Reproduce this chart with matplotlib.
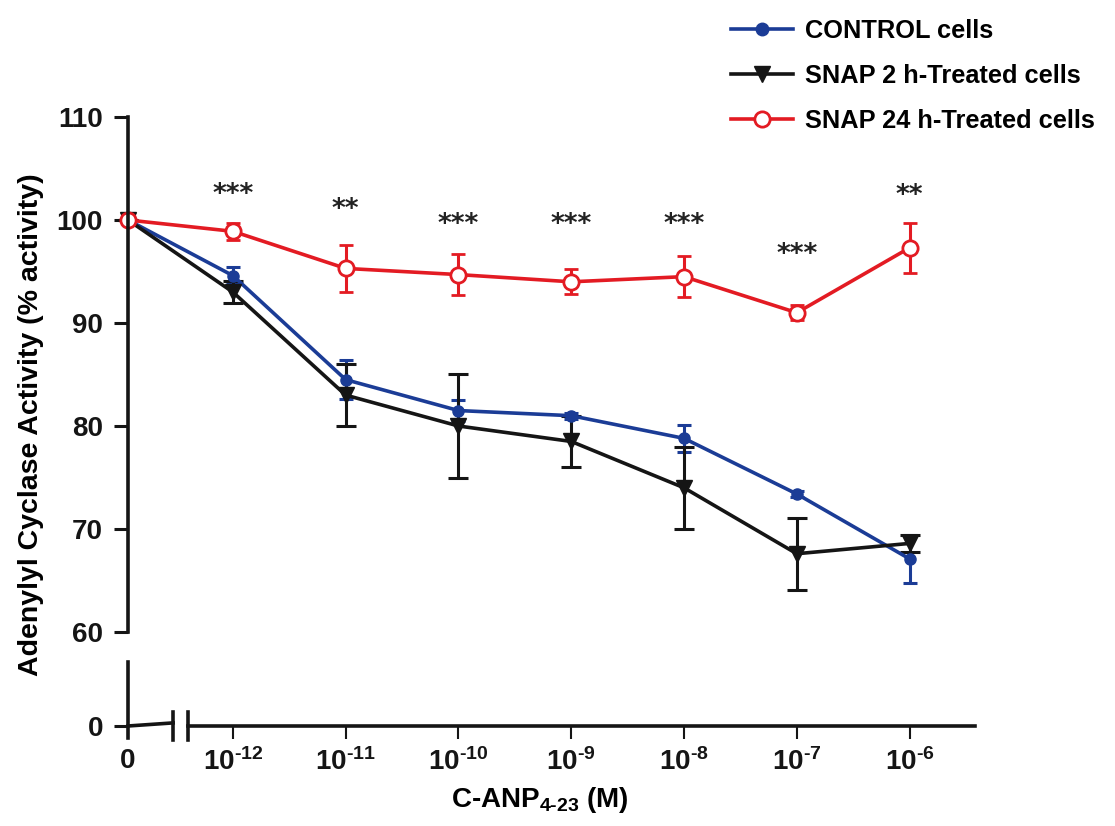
import matplotlib.pyplot as plt
from matplotlib.lines import Line2D
import numpy as np

plt.rcParams['font.family'] = ['Liberation Sans', 'DejaVu Sans']
plt.rcParams['font.weight'] = 'bold'
plt.rcParams['mathtext.fontset'] = 'custom'
plt.rcParams['mathtext.rm'] = 'Liberation Sans:bold'
plt.rcParams['mathtext.it'] = 'Liberation Sans:bold'
plt.rcParams['mathtext.bf'] = 'Liberation Sans:bold'

# data
doses = [0, 1e-12, 1e-11, 1e-10, 1e-9, 1e-8, 1e-7, 1e-6]
dose_labels = ['0', r'$10^{\text{-12}}$', r'$10^{\text{-11}}$', r'$10^{\text{-10}}$',
               r'$10^{\text{-9}}$', r'$10^{\text{-8}}$', r'$10^{\text{-7}}$',
               r'$10^{\text{-6}}$']
control = [100, 94.6, 84.5, 81.5, 81.0, 78.8, 73.4, 67.1]
control_err = [0, 0.8, 1.9, 1.0, 0.3, 1.3, 0.3, 2.3]
snap2 = [100, 93.0, 83.0, 80.0, 78.5, 74.0, 67.6, 68.6]
snap2_err = [0, 1.1, 3.0, 5.0, 2.5, 4.0, 3.5, 0.8]
snap24 = [100, 98.9, 95.3, 94.7, 94.0, 94.5, 91.0, 97.3]
snap24_err = [0, 0.8, 2.3, 2.0, 1.2, 2.0, 0.7, 2.4]
stars = ['', '***', '**', '***', '***', '***', '***', '**']
star_y = [0, 102.4, 101.0, 99.5, 99.5, 99.5, 96.6, 102.3]

blue = '#1b3c96'
black = '#151515'
red = '#e31b23'

ZERO_POS = -12.93
XMAX = -5.42
x = [ZERO_POS if d == 0 else np.log10(d) for d in doses]

W, H = 1115, 826


def px_rect(x0, y0, x1, y1):
    return [x0 / W, 1 - y1 / H, (x1 - x0) / W, (y1 - y0) / H]


fig = plt.figure(figsize=(W / 100, H / 100), dpi=100)
ax = fig.add_axes(px_rect(128, 117, 975, 632))
axb = fig.add_axes(px_rect(128, 662, 975, 738))
for a in (ax, axb):
    a.patch.set_visible(False)
    a.set_xlim(ZERO_POS, XMAX)
    for s in ('top', 'right'):
        a.spines[s].set_visible(False)
    a.spines['left'].set_linewidth(2.6)
    a.spines['left'].set_color(black)

# upper part 60-110
ax.set_ylim(60, 110)
ax.spines['bottom'].set_visible(False)
ax.set_xticks([])
ax.set_yticks(range(60, 111, 10))
ax.tick_params(axis='y', length=10, width=2.2, labelsize=20, pad=8, colors=black)

series = [
    (control, control_err, blue, 'o', dict(ms=8, mfc=blue, mec=blue), 5),
    (snap2, snap2_err, black, 'v', dict(ms=11, mfc=black, mec=black), 7),
    (snap24, snap24_err, red, 'o', dict(ms=11, mfc='white', mec=red, mew=2), 5),
]
for vals, err, col, mk, mkw, cap in series:
    cont = ax.errorbar(x, vals, yerr=err, color=col, marker=mk, lw=2.6,
                       elinewidth=2.2, capsize=cap, capthick=2.2, **mkw)
    for art in cont.get_children():
        art.set_clip_on(False)

for xi, s, yi in zip(x, stars, star_y):
    if s:
        ax.text(xi, yi, s, ha='center', va='center', fontsize=19,
                family='DejaVu Sans', fontweight='bold', color='#222222')

# lower part with 0 and broken x axis
axb.set_ylim(-1.165, 6.21)
axb.spines['bottom'].set_position(('data', 0))
axb.spines['bottom'].set_bounds(-12.40, XMAX)
axb.spines['bottom'].set_linewidth(2.6)
axb.spines['bottom'].set_color(black)
axb.set_yticks([0])
axb.set_yticklabels(['0'])
axb.set_xticks(x)
axb.set_xticklabels(dose_labels)
axb.tick_params(axis='y', length=10, width=2.2, labelsize=20, pad=8, colors=black)
axb.tick_params(axis='x', length=9, width=1.5, labelsize=20, pad=7, colors=black)
axb.plot([ZERO_POS, -12.53], [0, 0.3], color=black, lw=2.6, clip_on=False)
for bx in (-12.53, -12.40):
    axb.plot([bx, bx], [-1.4, 1.4], color=black, lw=2.6, clip_on=False)

fig.text(31 / W, 1 - 425 / H, 'Adenylyl Cyclase Activity (% activity)',
         rotation=90, ha='center', va='center', fontsize=20.5, fontweight='bold')
fig.text(540 / W, 1 - 800 / H, r'C-ANP$_{\text{4-23}}$ (M)', ha='center', va='center',
         fontsize=20, fontweight='bold')

handles = [
    Line2D([], [], color=blue, lw=2.6, marker='o', ms=9),
    Line2D([], [], color=black, lw=2.6, marker='v', ms=11),
    Line2D([], [], color=red, lw=2.6, marker='o', ms=11, mfc='white', mec=red, mew=2),
]
labels = ['CONTROL cells', 'SNAP 2 h-Treated cells', 'SNAP 24 h-Treated cells']
fig.legend(handles, labels, loc='upper left', bbox_to_anchor=(721 / W, 1 - 9 / H),
           frameon=False, prop={'size': 18.3, 'weight': 'bold'}, handlelength=2.45,
           handletextpad=0.45, labelspacing=0.82, borderaxespad=0)

fig.savefig('out.png', dpi=100)
